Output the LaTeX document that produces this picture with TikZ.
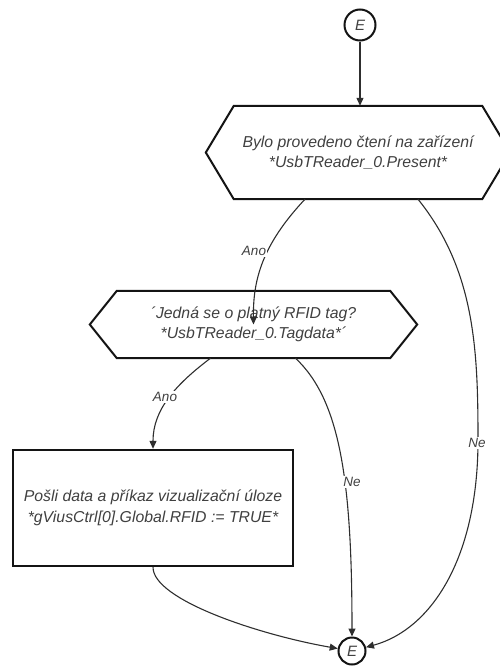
\documentclass[tikz,border=0pt]{standalone}
\usepackage{fontspec}
\setmainfont{Liberation Sans}
\usetikzlibrary{arrows.meta}
\definecolor{txtgrey}{HTML}{404040}
\definecolor{flowgrey}{HTML}{2E2E2E}
\definecolor{shapeblack}{HTML}{141414}
\begin{document}
\begin{tikzpicture}[x=1pt,y=-1pt,
  shapeline/.style={draw=shapeblack,line width=2pt,line join=miter},
  boxtext/.style={inner sep=0pt,align=center,text=txtgrey,
    font=\fontsize{15.8}{20.5}\selectfont\itshape},
  hexbox/.style={boxtext,rectangle,minimum width=#1},
  procbox/.style={boxtext,rectangle,shapeline,minimum width=280pt,minimum height=116pt,line width=2.4pt},
  connector/.style={circle,shapeline,minimum size=31pt,inner sep=0pt,text=txtgrey,
    font=\fontsize{15}{18}\selectfont\itshape},
  flow/.style={draw=flowgrey,line width=1.1pt,-{Triangle[length=8pt,width=7pt]}},
  lbl/.style={fill=white,inner sep=1pt,text=txtgrey,font=\fontsize{13.5}{16}\selectfont\itshape}]
\useasboundingbox (0,0) rectangle (499,667);

% connectors (entry and exit)
\node[connector] (e1) at (360,25) {E};
\node[connector,minimum size=27pt] (e2) at (352,651) {E};

% first decision
\node[hexbox=304pt,minimum height=93pt] (h1) at (358,152.5)
  {Bylo provedeno čtení na zařízení\\*UsbTReader\_0.Present*};
\draw[shapeline] (h1.west) -- ([xshift=28pt]h1.north west) -- ([xshift=-28pt]h1.north east)
  -- (h1.east) -- ([xshift=-28pt]h1.south east) -- ([xshift=28pt]h1.south west) -- cycle;

% second decision
\node[hexbox=327pt,minimum height=67pt] (h2) at (253.5,324.5)
  {´Jedná se o platný RFID tag?\\*UsbTReader\_0.Tagdata*´};
\draw[shapeline] (h2.west) -- ([xshift=27pt]h2.north west) -- ([xshift=-27pt]h2.north east)
  -- (h2.east) -- ([xshift=-27pt]h2.south east) -- ([xshift=27pt]h2.south west) -- cycle;

% process step
\node[procbox] (r1) at (153,508)
  {Pošli data a příkaz vizualizační úloze\\*gViusCtrl[0].Global.RFID := TRUE*};

% flow lines
\draw[flow] (e1) -- (e1 |- h1.north);
\draw[flow] ([xshift=-53pt]h1.south) .. controls (262,245) and (253,280) .. (h2.center);
\draw[flow] ([xshift=60pt]h1.south) .. controls (475,270) and (478,350) .. (478,440)
  .. controls (478,560) and (430,630) .. (e2);
\draw[flow] ([xshift=-43pt]h2.south) .. controls (175,385) and (153,410) .. (r1.north);
\draw[flow] ([xshift=42pt]h2.south) .. controls (340,400) and (352,480) .. (e2);
\draw[flow] (r1.south) .. controls (153,600) and (260,635) .. (e2);

% branch labels
\node[lbl] (a1) at (254,251) {Ano};
\node[lbl] (n1) at (477,443) {Ne};
\node[lbl] (a2) at (165,397) {Ano};
\node[lbl] (n2) at (352,482) {Ne};
\end{tikzpicture}
\end{document}
